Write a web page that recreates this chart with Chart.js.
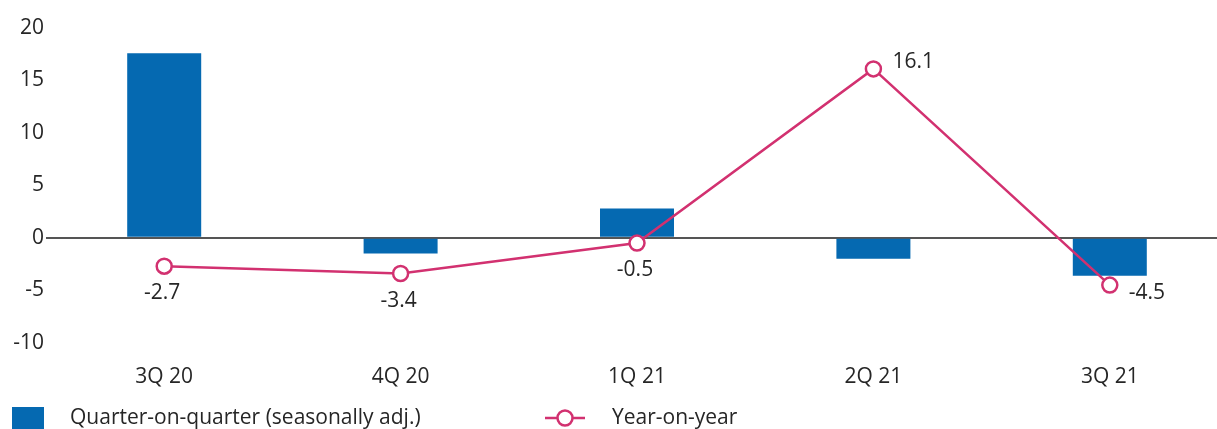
<!DOCTYPE html>
<html>
<head>
<meta charset="utf-8">
<script src="https://cdn.jsdelivr.net/npm/chart.js@4/dist/chart.umd.min.js"></script>
<style>
  html, body { margin: 0; padding: 0; background: #fff; overflow: hidden; }
  /* plot is a bit wider than the page, the last quarter runs off the edge */
  #wrap { position: absolute; left: 0; top: 0; width: 1238px; height: 429px; }
</style>
</head>
<body>
<div id="wrap"><canvas id="gdpChart"></canvas></div>
<script>
// quarters and growth figures, %
const quarters = ["3Q 20", "4Q 20", "1Q 21", "2Q 21", "3Q 21"];
const qoqValues = [17.6, -1.5, 2.8, -2.0, -3.6];
const yoyValues = [-2.7, -3.4, -0.5, 16.1, -4.5];
const yoyLabelSide = ["below", "below", "below", "right", "right"];
const yTicks = [20, 15, 10, 5, 0, -5, -10];

const BLUE = "#0569b1";
const PINK = "#d23170";
const TEXT = "#262626";
const FONT = "'Open Sans', sans-serif";
const FONT_SIZE = 21;
const FONT_WEIGHT = 400;
const fontCss = FONT_WEIGHT + " " + FONT_SIZE + "px " + FONT;

// value labels next to the year-on-year points
const yoyLabels = {
  id: "yoyLabels",
  afterDatasetsDraw(chart) {
    const meta = chart.getDatasetMeta(1);
    const ctx = chart.ctx;
    ctx.save();
    ctx.font = fontCss;
    ctx.fillStyle = TEXT;
    ctx.textBaseline = "middle";
    meta.data.forEach((pt, i) => {
      const txt = yoyValues[i].toFixed(1);
      if (yoyLabelSide[i] === "right") {
        ctx.textAlign = "left";
        const dy = yoyValues[i] > 0 ? -7 : 8;
        ctx.fillText(txt, pt.x + 19, pt.y + dy);
      } else {
        ctx.textAlign = "center";
        ctx.fillText(txt, pt.x - 2, pt.y + 27);
      }
    });
    ctx.restore();
  },
};

// legend row along the bottom edge
const bottomLegend = {
  id: "bottomLegend",
  afterDraw(chart) {
    const ctx = chart.ctx;
    const y = 418;
    ctx.save();
    ctx.fillStyle = BLUE;
    ctx.fillRect(12, 407, 32, 24);
    ctx.font = fontCss;
    ctx.fillStyle = TEXT;
    ctx.textAlign = "left";
    ctx.textBaseline = "middle";
    ctx.fillText(chart.data.datasets[0].label, 70, y);

    ctx.strokeStyle = PINK;
    ctx.lineWidth = 2.5;
    ctx.beginPath();
    ctx.moveTo(545, y);
    ctx.lineTo(585, y);
    ctx.stroke();
    ctx.beginPath();
    ctx.arc(565, y, 7.5, 0, Math.PI * 2);
    ctx.fillStyle = "#fff";
    ctx.fill();
    ctx.stroke();
    ctx.fillStyle = TEXT;
    ctx.fillText(chart.data.datasets[1].label, 612, y);
    ctx.restore();
  },
};

const tickFont = { family: FONT, size: FONT_SIZE, weight: FONT_WEIGHT };

new Chart(document.getElementById("gdpChart"), {
  data: {
    labels: quarters,
    datasets: [
      {
        type: "bar",
        label: "Quarter-on-quarter (seasonally adj.)",
        data: qoqValues,
        backgroundColor: BLUE,
        borderWidth: 0,
        categoryPercentage: 1,
        barPercentage: 0.313,
        order: 2,
      },
      {
        type: "line",
        label: "Year-on-year",
        data: yoyValues,
        borderColor: PINK,
        borderWidth: 2.5,
        tension: 0,
        pointRadius: 7.5,
        pointBorderWidth: 2.5,
        pointBackgroundColor: "#fff",
        pointBorderColor: PINK,
        order: 1,
      },
    ],
  },
  options: {
    responsive: true,
    maintainAspectRatio: false,
    animation: false,
    devicePixelRatio: 1,
    layout: { padding: { top: 28, bottom: 17, left: 0, right: 0 } },
    plugins: {
      legend: { display: false },
      tooltip: { enabled: false },
    },
    scales: {
      x: {
        offset: true,
        grid: { display: false, drawTicks: false },
        border: { display: false },
        ticks: { color: TEXT, font: tickFont, padding: 22 },
      },
      y: {
        min: -10,
        max: 20,
        afterBuildTicks: (scale) => {
          scale.ticks = yTicks.map((v) => ({ value: v }));
        },
        afterFit: (scale) => {
          scale.width = 46;
        },
        border: { display: false },
        grid: {
          drawTicks: false,
          color: (c) => (c.tick && c.tick.value === 0 ? "#555555" : "rgba(0,0,0,0)"),
          lineWidth: (c) => (c.tick && c.tick.value === 0 ? 2 : 0),
        },
        ticks: { color: TEXT, font: tickFont, padding: 2 },
      },
    },
  },
  plugins: [yoyLabels, bottomLegend],
});
</script>
</body>
</html>
